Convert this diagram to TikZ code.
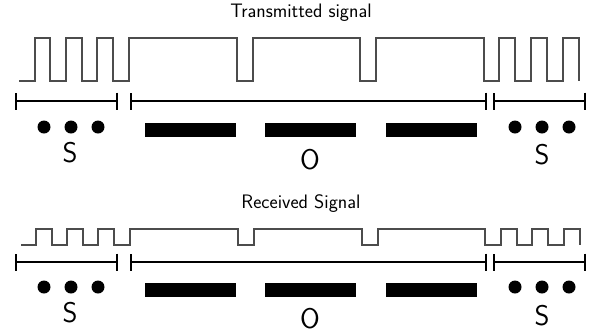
\documentclass[tikz,border=0pt]{standalone}
\usepackage{fontspec}
\usepackage{tikz}
\usetikzlibrary{arrows.meta}

\begin{document}
\begin{tikzpicture}[x=1pt, y=-1pt]
\tikzset{ inner sep=0pt, outer sep=0pt,
  sig/.style={line width=1.2pt, black!70},
  span/.style={line width=2pt, {Bar[width=17pt]}-{Bar[width=17pt]}},
  dot/.style={fill=black, circle, minimum size=13pt},
  bar/.style={fill=black, minimum width=91pt, minimum height=14pt},
  title/.style={font=\sffamily\fontsize{19.5}{22}\selectfont, anchor=base},
  letter/.style={font=\sffamily\fontsize{28.5}{30}\selectfont},
}

\useasboundingbox (0,0) rectangle (595,333);

% transmitted signal
\node [title] (TX) at (301,17) {Transmitted signal};
\draw [sig] (19,81) -| (35,38) -| (50,81) -| (66,38) -| (82,81) -| (97,38)
  -| (113,81) -| (129,38) -| (237,81) -| (253,38) -| (360,81) -| (376,38)
  -| (484,81) -| (499,38) -| (515,81) -| (531,38) -| (547,81) -| (563,38)
  -| (579,81);

\coordinate (TA) at (15,101);  \coordinate (TB) at (118,101);
\coordinate (TC) at (130,101); \coordinate (TD) at (487,101);
\coordinate (TE) at (493,101); \coordinate (TF) at (586,101);
\draw [span] (TA) -- (TB);
\draw [span] (TC) -- (TD);
\draw [span] (TE) -- (TF);

\node [dot] (T1) at (44,127) {};
\node [dot] (T2) at (71,127) {};
\node [dot] (T3) at (98,127) {};
\node [bar] (T4) at (190.5,130) {};
\node [bar] (T5) at (310.5,130) {};
\node [bar] (T6) at (431.5,130) {};
\node [dot] (T7) at (515,127) {};
\node [dot] (T8) at (542,127) {};
\node [dot] (T9) at (569,127) {};

\node [letter] (TS1) at (70,153) {S};
\node [letter] (TO)  at (310,160) {O};
\node [letter] (TS2) at (542,155) {S};

% received signal
\node [title] (RX) at (301,208) {Received Signal};
\draw [sig] (21,245) -| (36,229) -| (52,245) -| (67,229) -| (83,245) -| (98,229)
  -| (114,245) -| (130,229) -| (238,245) -| (254,229) -| (362,245) -| (378,229)
  -| (485,245) -| (501,229) -| (517,245) -| (532,229) -| (548,245) -| (564,229)
  -| (580,245);

\coordinate (RA) at (15,262);  \coordinate (RB) at (118,262);
\coordinate (RC) at (130,262); \coordinate (RD) at (487,262);
\coordinate (RE) at (493,262); \coordinate (RF) at (586,262);
\draw [span] (RA) -- (RB);
\draw [span] (RC) -- (RD);
\draw [span] (RE) -- (RF);

\node [dot] (R1) at (44,287) {};
\node [dot] (R2) at (71,287) {};
\node [dot] (R3) at (98,287) {};
\node [bar] (R4) at (190.5,290) {};
\node [bar] (R5) at (310.5,290) {};
\node [bar] (R6) at (431.5,290) {};
\node [dot] (R7) at (515,287) {};
\node [dot] (R8) at (542,287) {};
\node [dot] (R9) at (569,287) {};

\node [letter] (RS1) at (70,313) {S};
\node [letter] (RO)  at (310,319) {O};
\node [letter] (RS2) at (542,316) {S};
\end{tikzpicture}
\end{document}
